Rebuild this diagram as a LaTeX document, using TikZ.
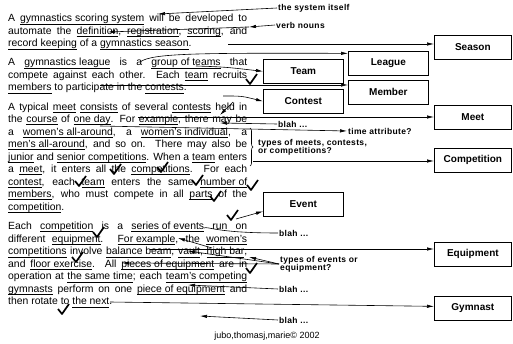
\documentclass[tikz,border=0pt]{standalone}
\usepackage{fontspec}
\setmainfont{Liberation Sans}
\newfontfamily\notefont[LetterSpace=4]{Liberation Sans}
\usetikzlibrary{arrows.meta,positioning,calc,decorations.pathreplacing}

% underlined word and one justified line of the text
\newcommand{\uw}[1]{\leavevmode\setbox0\hbox{#1}\rlap{\rule[-2.4pt]{\wd0}{0.6pt}}\box0\relax}
\newcommand{\jl}[1]{\makebox[239pt][s]{#1}}

\begin{document}
\begin{tikzpicture}[
    x=1pt, y=-1pt,
    txt/.style={anchor=base west, inner sep=0pt, font=\fontsize{10.4}{12.5}\selectfont},
    box/.style={draw, line width=0.7pt, anchor=north west, minimum height=24pt, inner sep=0pt, font=\fontsize{10}{12}\selectfont\bfseries},
    note/.style={anchor=west, inner sep=1pt, align=left, font=\notefont\bfseries\fontsize{8.5}{8.3}\selectfont},
    arr/.style={line width=0.6pt, -{Latex[length=7pt,width=3.4pt]}},
    lnk/.style={line width=0.6pt},
    chk/.pic={\draw[line width=1.7pt, line join=round] (-4,-3) -- (0,2) -- (7,-8);},
]
\useasboundingbox (0,0) rectangle (513,344);

% Paragraph 1
\node[txt] (p1a) at (8,21.8) {\jl{A \uw{gymnastics scoring system} will be developed to}};
\node[txt] (p1b) at (8,34.3) {\jl{automate the \uw{definition}, \uw{registration}, \uw{scoring}, and}};
\node[txt] (p1c) at (8,46.8) {\uw{record keeping} of a \uw{gymnastics season}.};

% Paragraph 2
\node[txt] (p2a) at (8,65.8) {\jl{A \uw{gymnastics league} is a \uw{group of teams} that}};
\node[txt] (p2b) at (8,78.3) {\jl{compete against each other. Each \uw{team} recruits}};
\node[txt] (p2c) at (8,90.8) {\uw{members} to participate in the \uw{contests}.};

% Paragraph 3
\node[txt] (p3a) at (8,110.2) {\jl{A typical \uw{meet} \uw{consists} of several \uw{contests} held in}};
\node[txt] (p3b) at (8,122.7) {\jl{the \uw{course} of \uw{one day}. For \uw{example}, there may be}};
\node[txt] (p3c) at (8,135.2) {\jl{a \uw{women's all-around}, a \uw{women's individual}, a}};
\node[txt] (p3d) at (8,147.7) {\jl{\uw{men's all-around}, and so on. There may also be}};
\node[txt] (p3e) at (8,160.2) {\jl{\uw{junior} and \uw{senior competitions}. When a \uw{team} enters}};
\node[txt] (p3f) at (8,172.7) {\jl{a \uw{meet}, it enters all the \uw{competitions}. For each}};
\node[txt] (p3g) at (8,185.2) {\jl{\uw{contest}, each \uw{team} enters the same \uw{number of}}};
\node[txt] (p3h) at (8,197.7) {\jl{\uw{members}, who must compete in all \uw{parts} of the}};
\node[txt] (p3i) at (8,210.2) {\uw{competition}.};

% Paragraph 4
\node[txt] (p4a) at (8,229.7) {\jl{Each \uw{competition} is a \uw{series of events} run on}};
\node[txt] (p4b) at (8,242.2) {\jl{different \uw{equipment}. \uw{For example}, the \uw{women's}}};
\node[txt] (p4c) at (8,254.7) {\jl{\uw{competitions} involve \uw{balance beam}, \uw{vault}, \uw{high bar},}};
\node[txt] (p4d) at (8,267.2) {\jl{and \uw{floor exercise}. All \uw{pieces of equipment} are in}};
\node[txt] (p4e) at (8,279.7) {\jl{operation at \uw{the same time}; each \uw{team's competing}}};
\node[txt] (p4f) at (8,292.2) {\jl{\uw{gymnasts} perform on one \uw{piece of equipment} and}};
\node[txt] (p4g) at (8,304.7) {then rotate to \uw{the next}.};

% Classes
\node[box, minimum width=77pt] (season) at (434,35) {Season};
\node[box, minimum width=80pt] (league) at (348,51) {League};
\node[box, minimum width=80pt] (team) at (263,59) {Team};
\node[box, minimum width=80pt] (member) at (348,80) {Member};
\node[box, minimum width=80pt] (contest) at (263,89) {Contest};
\node[box, minimum width=77pt] (meet) at (434,105) {Meet};
\node[box, minimum width=77pt] (competition) at (434,148) {Competition};
\node[box, minimum width=80pt] (event) at (263,192) {Event};
\node[box, minimum width=77pt] (equipment) at (434,242) {Equipment};
\node[box, minimum width=77pt] (gymnast) at (434,296) {Gymnast};

% Notes
\node[note] (lsys) at (277,8) {the system itself};
\node[note] (lverb) at (275,25) {verb nouns};
\node[note] (lblaha) at (277,124) {blah ...};
\node[note] (ltime) at (347,131) {time attribute?};
\node[note] (ltypesa) at (257,147) {types of meets, contests,\\or competitions?};
\node[note] (lblahb) at (278,233) {blah ...};
\node[note] (ltypesb) at (279,264) {types of events or\\equipment?};
\node[note] (lblahc) at (278,289) {blah ...};
\node[note] (lblahd) at (278,320) {blah ...};
\node[font=\fontsize{9}{9}\selectfont] (copy) at (267,336) {jubo,thomasj,marie\textcopyright{} 2002};

% Ends of the connectors in the text
\coordinate (wwill) at (158,14);
\coordinate (wand) at (249,27);
\coordinate (wreg) at (108,32);
\coordinate (wseason) at (228,44);
\coordinate (wleague) at (140,62);
\coordinate (wteams) at (196,66);
\coordinate (wmembers) at (100,85);
\coordinate (wcontests) at (223,96);
\coordinate (wheld) at (233,102);
\coordinate (wheldend) at (220,115);
\coordinate (wexample) at (138,117);
\coordinate (wmay) at (220,123);
\coordinate (wday) at (100,126);
\coordinate (btop) at (250,128);
\coordinate (bbot) at (250,166);
\coordinate (wbrace) at (253,161);
\coordinate (wcomp) at (236,219);
\coordinate (wrun) at (204,228);
\coordinate (wsplit) at (212,248);
\coordinate (wthe) at (178,238);
\coordinate (wequip) at (150,249);
\coordinate (wvault) at (188,251);
\coordinate (wbar) at (249,257);
\coordinate (wpieces) at (122,263);
\coordinate (wteam) at (188,285);
\coordinate (wgym) at (110,302);
\coordinate (wnext) at (200,316);

% Connectors
\draw[arr] (lsys.west) -- (wwill);
\draw[arr] (lverb.west) -- (wand);
\draw[arr] (wand) -- (wreg);
\draw[arr] (wseason) -- (wseason -| season.west);
\draw[arr] (wleague) .. controls (152,53) and (200,53) .. ($(league.west)+(0,-10)$);
\draw[arr] (wteams) .. controls (225,67) .. (team.west);
\draw[arr] (wmembers) -- (wmembers -| member.west);
\draw[arr] (wcontests) .. controls (242,96) .. (contest.west);
\draw[arr] (wheld) -- (wheldend);
\draw[arr] (wexample) -- (wexample -| meet.west);
\draw[arr] (lblaha.west) -- (wmay);
\draw[arr] (wday) -- (ltime.west);
\draw[lnk, decorate, decoration={brace, amplitude=3pt}] (btop) -- (bbot);
\draw[arr] (wbrace) -- (wbrace -| competition.west);
\draw[arr] (wcomp) -- ($(event.west)+(0,7)$);
\draw[lnk] (lblahb.west) .. controls (215,233) and (208,226) .. (wrun);
\draw[arr] (wequip) -- (wequip -| equipment.west);
\draw[arr] (wsplit) -- (wthe);
\draw[arr] (ltypesb.west) -- (wbar);
\draw[arr] (ltypesb.west) -- (wvault);
\draw[arr] (ltypesb.west) -- (wpieces);
\draw[arr] (lblahc.west) -- (wteam);
\draw[arr] (wgym) -- ($(gymnast.west)+(0,-2)$);
\draw[arr] (lblahd.west) -- (wnext);

% Ticks
\foreach \x/\y in {250/82, 114/172, 161/170, 79/184, 196/183, 251/188,
                   214/199, 231/218, 97/235, 76/260, 250/271, 62/312}
  \pic at (\x,\y) {chk};

\end{tikzpicture}
\end{document}
